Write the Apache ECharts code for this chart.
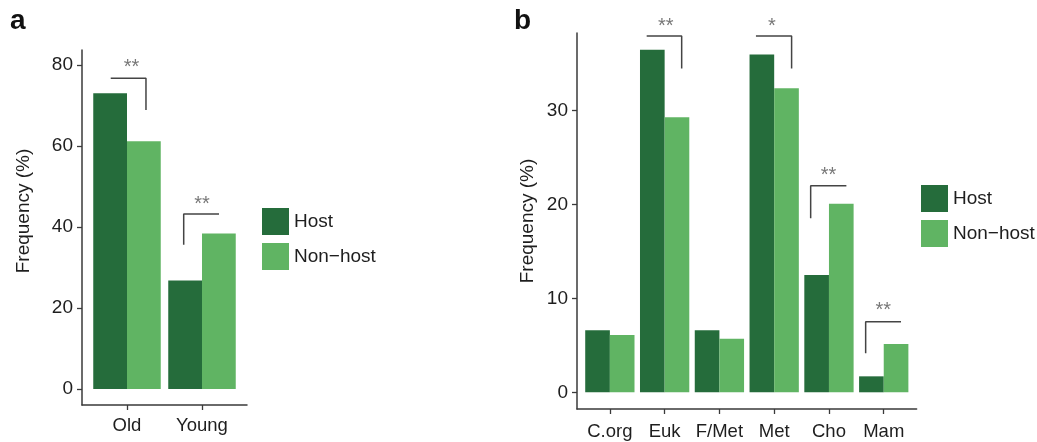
<!DOCTYPE html>
<html><head><meta charset="utf-8">
<script src="https://cdn.jsdelivr.net/npm/echarts@6/dist/echarts.min.js"></script>
<style>html,body{margin:0;padding:0;background:#fff}#c{width:1037px;height:442px}</style>
</head><body><div id="c"></div>
<script>
// ---------- data ----------
const seriesNames = ['Host', 'Non\u2212host'];
const catsA = ['Old', 'Young'];
const hostA = [73.0, 26.8];
const nonHostA = [61.2, 38.4];
const ticksA = [0, 20, 40, 60, 80];

const catsB = ['C.org', 'Euk', 'F/Met', 'Met', 'Cho', 'Mam'];
const hostB = [6.6, 36.5, 6.6, 36.0, 12.5, 1.7];
const nonHostB = [6.1, 29.3, 5.7, 32.4, 20.1, 5.15];
const ticksB = [0, 10, 20, 30];

// significance brackets (data units: category position, frequency)
const bracketsA = [
  [[0.783, 76.7], [1.253, 76.7], [1.253, 68.9]],
  [[1.756, 35.6], [1.756, 43.2], [2.227, 43.2]]
];
const starsA = [[1.06, 79.3, '**'], [2.0, 45.5, '**']];
const bracketsB = [
  [[1.672, 37.96], [2.311, 37.96], [2.311, 34.5]],
  [[3.667, 37.96], [4.318, 37.96], [4.318, 34.5]],
  [[4.666, 18.54], [4.666, 22.0], [5.318, 22.0]],
  [[5.67, 4.15], [5.67, 7.52], [6.315, 7.52]]
];
const starsB = [[2.02, 39.0, '**'], [3.96, 39.0, '*'], [4.99, 23.1, '**'], [5.99, 8.7, '**']];

// ---------- style ----------
const FONT = '"Liberation Sans", Arial, sans-serif';
const DARK = '#256C3B';
const LIGHT = '#60B463';
const AXIS = '#3a3a3a';
const TXT = '#1e1e1e';

const chart = echarts.init(document.getElementById('c'), null, {renderer: 'canvas'});

function xAxisFor(cats, grid, margin) {
  const vals = cats.map((_, i) => i + 1);
  return {
    type: 'value', gridIndex: grid, min: 0.4, max: cats.length + 0.6,
    splitLine: {show: false},
    axisLine: {show: true, onZero: false, lineStyle: {color: AXIS, width: 1.5}},
    axisTick: {show: true, length: 5, customValues: vals, lineStyle: {color: AXIS, width: 1.3}},
    axisLabel: {customValues: vals, margin: margin, fontFamily: FONT, fontSize: 18.5, color: TXT,
      formatter: v => cats[Math.round(v) - 1] || ''}
  };
}
function yAxisFor(ticks, grid, min, max, gap, pad) {
  return {
    type: 'value', gridIndex: grid, min: min, max: max,
    splitLine: {show: false},
    axisLine: {show: true, onZero: false, lineStyle: {color: AXIS, width: 1.5}},
    axisTick: {show: true, length: 5, customValues: ticks, lineStyle: {color: AXIS, width: 1.3}},
    axisLabel: {customValues: ticks, margin: 9, fontFamily: FONT, fontSize: 19, color: TXT},
    name: 'Frequency (%)', nameLocation: 'middle', nameGap: gap,
    nameTextStyle: {fontFamily: FONT, fontSize: 19, color: TXT, padding: pad}
  };
}
function bars(vals, name, color, ax) {
  return {
    type: 'bar', name: name, xAxisIndex: ax, yAxisIndex: ax,
    data: vals.map((v, i) => [i + 1, v]),
    barWidth: '45%', barGap: '0%',
    itemStyle: {color: color}, silent: true
  };
}
function bracketSeries(list, ax) {
  return list.map(p => ({
    type: 'line', xAxisIndex: ax, yAxisIndex: ax, data: p, symbol: 'none', silent: true, clip: false,
    lineStyle: {color: '#444', width: 1.5}, z: 5
  }));
}
function starSeries(list, ax) {
  return {
    type: 'scatter', xAxisIndex: ax, yAxisIndex: ax, symbolSize: 1, silent: true, clip: false,
    itemStyle: {color: 'rgba(0,0,0,0)'},
    data: list,
    label: {show: true, position: 'inside', formatter: p => p.data[2],
      fontFamily: FONT, fontSize: 20, color: '#555'}
  };
}
function legendAt(left, top) {
  return {
    orient: 'vertical', left: left, top: top, padding: 0,
    itemWidth: 27, itemHeight: 27, itemGap: 8, icon: 'rect',
    data: seriesNames, selectedMode: false,
    textStyle: {fontFamily: FONT, fontSize: 19, color: TXT}
  };
}

chart.setOption({
  animation: false,
  backgroundColor: '#fff',
  title: [
    {text: 'a', left: 10, top: 7, padding: 0, textStyle: {fontFamily: FONT, fontSize: 28, fontWeight: 'bold', color: '#111'}},
    {text: 'b', left: 514, top: 7, padding: 0, textStyle: {fontFamily: FONT, fontSize: 28, fontWeight: 'bold', color: '#111'}}
  ],
  grid: [
    {left: 82, top: 50, width: 165, height: 355},
    {left: 577, top: 33, width: 339.6, height: 376}
  ],
  legend: [legendAt(262, 208), legendAt(921, 185)],
  xAxis: [xAxisFor(catsA, 0, 11), xAxisFor(catsB, 1, 13)],
  yAxis: [yAxisFor(ticksA, 0, -3.95, 83.7, 49, [0, 0, 0, 33]), yAxisFor(ticksB, 1, -1.78, 38.28, 40, 0)],
  series: [
    bars(hostA, seriesNames[0], DARK, 0),
    bars(nonHostA, seriesNames[1], LIGHT, 0),
    bars(hostB, seriesNames[0], DARK, 1),
    bars(nonHostB, seriesNames[1], LIGHT, 1),
    ...bracketSeries(bracketsA, 0),
    ...bracketSeries(bracketsB, 1),
    starSeries(starsA, 0),
    starSeries(starsB, 1)
  ]
});
</script>
</body></html>
